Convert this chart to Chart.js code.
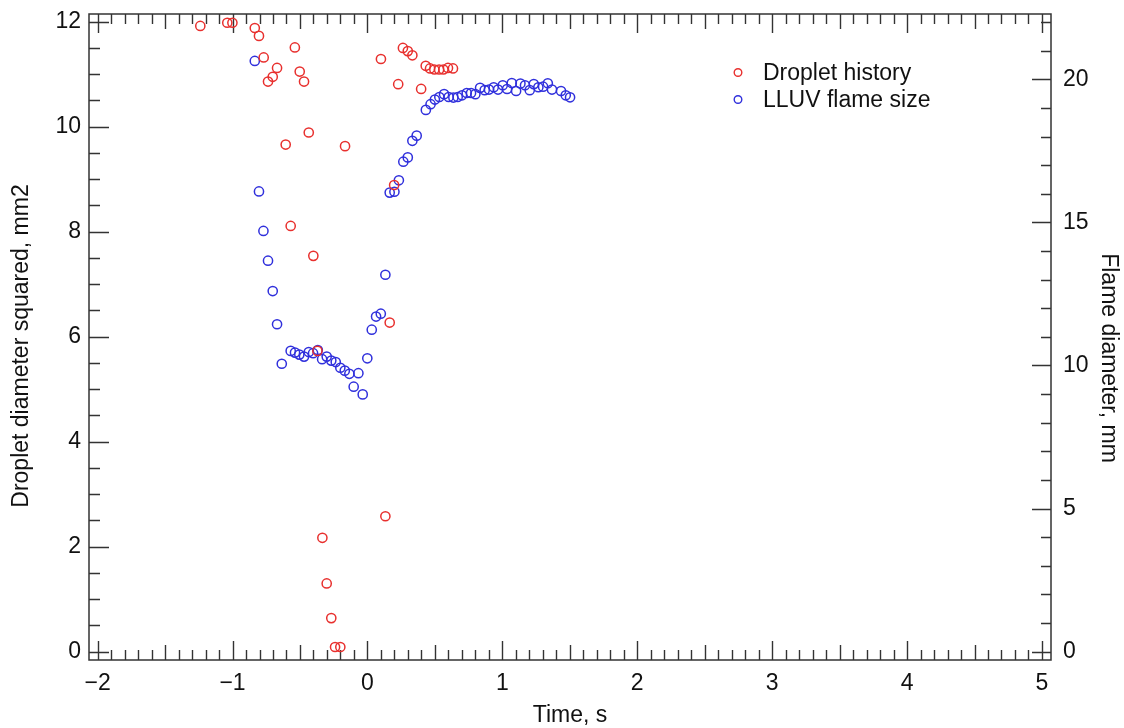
<!DOCTYPE html>
<html>
<head>
<meta charset="utf-8">
<title>Droplet history and LLUV flame size</title>
<script src="https://cdn.jsdelivr.net/npm/chart.js@4.4.1/dist/chart.umd.min.js"></script>
<style>
  html, body { margin: 0; padding: 0; background: #fff; }
  #wrap { width: 1124px; height: 728px; }
</style>
</head>
<body>
<div id="wrap"><canvas id="dropChart" width="1124" height="728"></canvas></div>
<script>
// droplet history: time, s / diameter squared, mm2 (left axis)
const dropTime = [-1.239, -1.039, -1.001, -0.835, -0.804, -0.769, -0.737, -0.702, -0.670, -0.606,
  -0.569, -0.538, -0.502, -0.470, -0.435, -0.401, -0.371, -0.334, -0.302, -0.268,
  -0.240, -0.201, -0.166, 0.100, 0.133, 0.165, 0.198, 0.228, 0.263, 0.299,
  0.333, 0.398, 0.432, 0.464, 0.496, 0.531, 0.563, 0.597, 0.634];
const dropD2 = [11.92, 11.98, 11.98, 11.88, 11.73, 11.32, 10.86, 10.95, 11.12, 9.66,
  8.11, 11.51, 11.05, 10.86, 9.89, 7.54, 5.73, 2.17, 1.30, 0.64,
  0.09, 0.09, 9.63, 11.29, 2.58, 6.27, 8.89, 10.81, 11.50, 11.44,
  11.36, 10.72, 11.16, 11.11, 11.09, 11.09, 11.09, 11.12, 11.11];

// LLUV flame size: time, s / flame diameter, mm (right axis)
const flameTime = [-0.835, -0.804, -0.771, -0.737, -0.702, -0.670, -0.635, -0.569, -0.537, -0.505,
  -0.470, -0.435, -0.403, -0.368, -0.336, -0.302, -0.268, -0.235, -0.201, -0.168,
  -0.134, -0.102, -0.067, -0.035, -0.001, 0.032, 0.064, 0.099, 0.133, 0.165,
  0.200, 0.233, 0.266, 0.299, 0.333, 0.365, 0.433, 0.468, 0.500, 0.533,
  0.568, 0.602, 0.637, 0.669, 0.701, 0.736, 0.768, 0.800, 0.835, 0.869,
  0.901, 0.936, 0.968, 1.003, 1.035, 1.070, 1.102, 1.134, 1.168, 1.203,
  1.233, 1.267, 1.302, 1.337, 1.368, 1.435, 1.470, 1.502];
const flameDiam = [20.64, 16.08, 14.70, 13.66, 12.60, 11.44, 10.06, 10.51, 10.45, 10.38,
  10.31, 10.47, 10.43, 10.54, 10.22, 10.31, 10.17, 10.12, 9.92, 9.82,
  9.71, 9.26, 9.73, 8.99, 10.25, 11.25, 11.71, 11.81, 13.17, 16.04,
  16.07, 16.47, 17.12, 17.27, 17.85, 18.03, 18.93, 19.13, 19.29, 19.38,
  19.48, 19.38, 19.36, 19.38, 19.44, 19.52, 19.52, 19.48, 19.70, 19.62,
  19.64, 19.72, 19.64, 19.79, 19.66, 19.87, 19.59, 19.85, 19.79, 19.62,
  19.83, 19.72, 19.74, 19.86, 19.64, 19.59, 19.44, 19.37];

// labelled tick values on each axis
const timeTicks = [-2, -1, 0, 1, 2, 3, 4, 5];
const d2Ticks = [0, 2, 4, 6, 8, 10, 12];
const flameTicks = [0, 5, 10, 15, 20];

const RED = '#e8302e';
const BLUE = '#3030dc';
const INK = '#333333';
const TEXT = '#111111';
const FONT = '"Liberation Sans", Arial, Helvetica, sans-serif';

const toPoints = (xs, ys) => xs.map((x, i) => ({ x: x, y: ys[i] }));
const minus = v => (v < 0 ? '\u2212' + Math.abs(v) : String(v));

// frame plus inward-pointing major/minor ticks on all four sides
const frameTicks = {
  id: 'frameTicks',
  beforeDatasetsDraw(chart) {
    const { ctx, chartArea: a, scales } = chart;
    const sx = scales.x, sy = scales.y, sy1 = scales.y1;
    ctx.save();
    ctx.strokeStyle = INK;
    ctx.lineWidth = 1.5;
    ctx.strokeRect(a.left, a.top, a.right - a.left, a.bottom - a.top);
    ctx.lineWidth = 1.4;
    ctx.beginPath();
    // time axis: every 0.1 s, longer at 0.5 and 1 s
    for (let i = -20; i <= 50; i++) {
      const px = Math.round(sx.getPixelForValue(i / 10)) + 0.5;
      const len = i % 10 === 0 ? 19 : (i % 5 === 0 ? 15 : 10);
      ctx.moveTo(px, a.bottom); ctx.lineTo(px, a.bottom - len);
      ctx.moveTo(px, a.top); ctx.lineTo(px, a.top + len);
    }
    // left axis: every 0.5 mm2
    for (let i = 0; i <= 24; i++) {
      const py = Math.round(sy.getPixelForValue(i / 2)) + 0.5;
      const len = i % 4 === 0 ? 20 : 11;
      ctx.moveTo(a.left, py); ctx.lineTo(a.left + len, py);
    }
    // right axis: every 1 mm
    for (let i = 0; i <= 22; i++) {
      const py = Math.round(sy1.getPixelForValue(i)) + 0.5;
      const len = i % 5 === 0 ? 19 : 10;
      ctx.moveTo(a.right, py); ctx.lineTo(a.right - len, py);
    }
    ctx.stroke();
    ctx.restore();
  },
  afterDraw(chart) {
    const ctx = chart.ctx;
    ctx.save();
    ctx.font = '23px ' + FONT;
    ctx.fillStyle = TEXT;
    ctx.textBaseline = 'middle';
    ctx.textAlign = 'center';

    // vertical axis titles
    ctx.save();
    ctx.translate(22, 346);
    ctx.rotate(-Math.PI / 2);
    ctx.fillText('Droplet diameter squared, mm2', 0, 0);
    ctx.restore();
    ctx.save();
    ctx.translate(1108, 358);
    ctx.rotate(Math.PI / 2);
    ctx.fillText('Flame diameter, mm', 0, 0);
    ctx.restore();

    // legend inside the plot, upper right
    const lx = 738, tx = 763, rows = [72.5, 99.5];
    ctx.textAlign = 'left';
    chart.data.datasets.forEach((ds, i) => {
      ctx.beginPath();
      ctx.strokeStyle = ds.borderColor;
      ctx.lineWidth = 1.4;
      ctx.arc(lx, rows[i], 3.8, 0, Math.PI * 2);
      ctx.stroke();
      ctx.fillText(ds.label, tx, rows[i] + 1);
    });
    ctx.restore();
  }
};

const tickFont = { family: FONT, size: 23 };
const titleFont = { family: FONT, size: 23 };
const noPad = s => { s.paddingTop = 0; s.paddingBottom = 0; s.paddingLeft = 0; s.paddingRight = 0; };

new Chart(document.getElementById('dropChart').getContext('2d'), {
  type: 'scatter',
  data: {
    datasets: [
      {
        label: 'Droplet history',
        data: toPoints(dropTime, dropD2),
        yAxisID: 'y',
        borderColor: RED,
        backgroundColor: 'rgba(0,0,0,0)',
        pointRadius: 4.6,
        pointBorderWidth: 1.5,
        pointHoverRadius: 4.6
      },
      {
        label: 'LLUV flame size',
        data: toPoints(flameTime, flameDiam),
        yAxisID: 'y1',
        borderColor: BLUE,
        backgroundColor: 'rgba(0,0,0,0)',
        pointRadius: 4.6,
        pointBorderWidth: 1.5,
        pointHoverRadius: 4.6
      }
    ]
  },
  options: {
    responsive: false,
    animation: false,
    devicePixelRatio: 1,
    layout: { autoPadding: false, padding: { top: 14, left: 0, right: 0, bottom: 0 } },
    plugins: { legend: { display: false }, tooltip: { enabled: false } },
    scales: {
      x: {
        type: 'linear',
        position: 'bottom',
        min: -2.064,
        max: 5.067,
        afterBuildTicks: s => { s.ticks = timeTicks.map(v => ({ value: v })); },
        afterFit: s => { s.height = 68; noPad(s); },
        grid: { display: false, drawTicks: false },
        border: { display: false },
        ticks: { font: tickFont, color: TEXT, padding: 10, maxRotation: 0, callback: v => minus(v) },
        title: { display: true, text: 'Time, s', font: titleFont, color: TEXT, padding: { top: 0, bottom: -1 } }
      },
      y: {
        type: 'linear',
        position: 'left',
        min: -0.158,
        max: 12.147,
        afterBuildTicks: s => { s.ticks = d2Ticks.map(v => ({ value: v })); },
        afterFit: s => { s.width = 89; noPad(s); },
        grid: { display: false, drawTicks: false },
        border: { display: false },
        ticks: { font: tickFont, color: TEXT, padding: 8, callback: v => String(v) },
        title: { display: false }
      },
      y1: {
        type: 'linear',
        position: 'right',
        min: -0.29,
        max: 22.28,
        afterBuildTicks: s => { s.ticks = flameTicks.map(v => ({ value: v })); },
        afterFit: s => { s.width = 73; noPad(s); },
        grid: { display: false, drawTicks: false },
        border: { display: false },
        ticks: { font: tickFont, color: TEXT, padding: 12, callback: v => String(v) },
        title: { display: false }
      }
    }
  },
  plugins: [frameTicks]
});
</script>
</body>
</html>
